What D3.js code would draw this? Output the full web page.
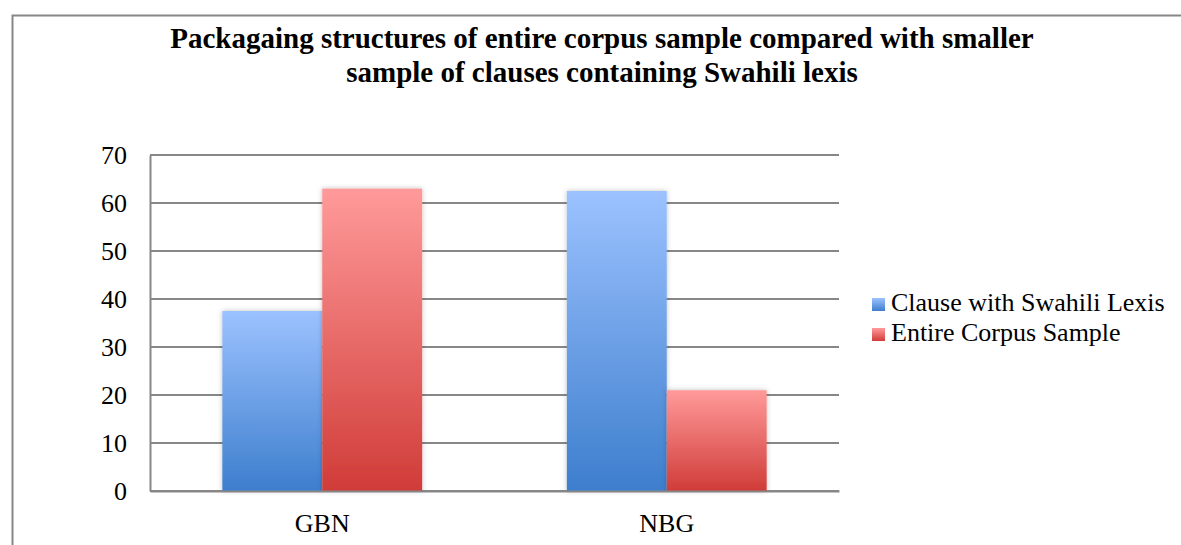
<!DOCTYPE html>
<html>
<head>
<meta charset="utf-8">
<script src="https://cdn.jsdelivr.net/npm/d3@7"></script>
<style>
  html, body { margin: 0; padding: 0; background: #fff; }
  svg { display: block; }
</style>
</head>
<body>
<div id="chart"></div>
<script>
const categories = ['GBN', 'NBG'];
const seriesNames = ['Clause with Swahili Lexis', 'Entire Corpus Sample'];
const swahiliValues = [37.5, 62.5];
const corpusValues = [63, 21];
const yTicks = [0, 10, 20, 30, 40, 50, 60, 70];
const titleLines = ['Packagaing structures of entire corpus sample compared with smaller',
                    'sample of clauses containing Swahili lexis'];

const serif = "'Liberation Serif', 'Times New Roman', serif";
const width = 1181, height = 545;
const margin = {left: 150, right: 342, top: 155, bottom: 54};

const svg = d3.select('#chart').append('svg')
    .attr('width', width)
    .attr('height', height)
    .style('font-family', serif);

const defs = svg.append('defs');

const gradients = [
  {id: 'gradBlue', top: '#9cc2ff', bottom: '#3d7ecd'},
  {id: 'gradRed', top: '#ff9a9a', bottom: '#d03c38'}
];
gradients.forEach(g => {
  const lg = defs.append('linearGradient')
      .attr('id', g.id)
      .attr('x1', 0).attr('y1', 0).attr('x2', 0).attr('y2', 1);
  lg.append('stop').attr('offset', '0%').attr('stop-color', g.top);
  lg.append('stop').attr('offset', '100%').attr('stop-color', g.bottom);
});

const shadow = defs.append('filter')
    .attr('id', 'barShadow')
    .attr('x', '-10%').attr('y', '-10%')
    .attr('width', '120%').attr('height', '120%');
shadow.append('feDropShadow')
    .attr('dx', 0).attr('dy', 0)
    .attr('stdDeviation', 2.5)
    .attr('flood-color', '#000')
    .attr('flood-opacity', 0.25);

// outer chart border (runs off the right and bottom edges)
svg.append('path')
    .attr('d', `M12.5,${height + 2} V15.5 H${width + 2}`)
    .attr('fill', 'none')
    .attr('stroke', '#878787')
    .attr('stroke-width', 2);

// title
svg.append('g')
    .selectAll('text')
    .data(titleLines)
    .enter()
    .append('text')
    .attr('text-anchor', 'middle')
    .attr('font-weight', 'bold')
    .style('font-size', '29px')
    .style('font-family', serif)
    .attr('x', 602)
    .attr('y', (d, i) => 48 + i * 34)
    .text(d => d);

const x0 = d3.scaleBand()
    .domain(categories)
    .range([margin.left, width - margin.right])
    .paddingInner(0.42)
    .paddingOuter(0.21);

const x1 = d3.scaleBand()
    .domain(seriesNames)
    .range([0, x0.bandwidth()]);

const y = d3.scaleLinear()
    .domain([0, 70])
    .range([height - margin.bottom, margin.top]);

const color = d3.scaleOrdinal()
    .domain(seriesNames)
    .range(['url(#gradBlue)', 'url(#gradRed)']);

// gridlines
svg.append('g')
    .selectAll('line')
    .data(yTicks)
    .enter()
    .append('line')
    .attr('x1', margin.left)
    .attr('x2', width - margin.right)
    .attr('y1', d => y(d))
    .attr('y2', d => y(d))
    .attr('stroke', '#878787')
    .attr('stroke-width', 2);

// y axis
const yAxis = svg.append('g')
    .attr('transform', `translate(${margin.left},0)`)
    .call(d3.axisLeft(y).tickValues(yTicks).tickSize(0).tickPadding(23));
yAxis.attr('font-family', null).attr('font-size', null);
yAxis.select('.domain').attr('stroke', '#878787').attr('stroke-width', 2);
yAxis.selectAll('text')
    .style('font-size', '26px')
    .style('font-family', serif)
    .attr('fill', '#000');

// bars
const rows = categories.map((c, i) => ({
  key: c,
  values: [
    {series: seriesNames[0], value: swahiliValues[i]},
    {series: seriesNames[1], value: corpusValues[i]}
  ]
}));

svg.append('g')
    .selectAll('g')
    .data(rows)
    .enter()
    .append('g')
    .attr('transform', d => `translate(${x0(d.key)},0)`)
    .selectAll('rect')
    .data(d => d.values)
    .enter()
    .append('rect')
    .attr('x', d => x1(d.series))
    .attr('width', x1.bandwidth())
    .attr('y', d => y(d.value))
    .attr('height', d => y(0) - y(d.value))
    .attr('fill', d => color(d.series))
    .attr('filter', 'url(#barShadow)');

// x axis
const xAxis = svg.append('g')
    .attr('transform', `translate(0,${y(0)})`)
    .call(d3.axisBottom(x0).tickSize(0).tickPadding(23));
xAxis.attr('font-family', null).attr('font-size', null);
xAxis.select('.domain').attr('stroke', '#878787').attr('stroke-width', 2);
xAxis.selectAll('text')
    .style('font-size', '26px')
    .style('font-family', serif)
    .attr('fill', '#000');

// legend
const legend = svg.append('g')
    .attr('transform', 'translate(872,311)')
    .selectAll('g')
    .data(seriesNames)
    .enter()
    .append('g')
    .attr('transform', (d, i) => `translate(0,${i * 30})`);

legend.append('rect')
    .attr('width', 13)
    .attr('height', 13)
    .attr('y', -13)
    .attr('fill', d => color(d));

legend.append('text')
    .attr('x', 19)
    .attr('y', 0)
    .style('font-size', '26px')
    .style('font-family', serif)
    .text(d => d);
</script>
</body>
</html>
